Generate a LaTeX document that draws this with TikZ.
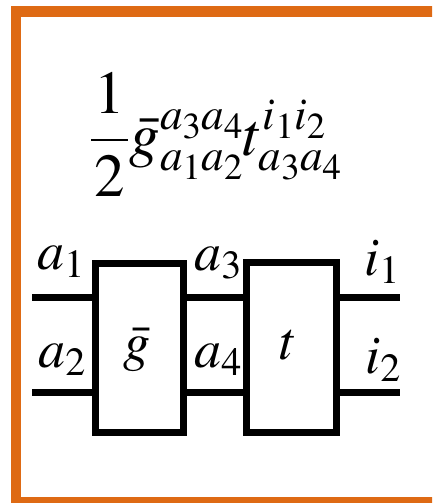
\documentclass[tikz,border=0pt]{standalone}
\usepackage{mathptmx}
\definecolor{frameorange}{RGB}{222,106,20}
\begin{document}
\begin{tikzpicture}[x=1pt,y=-1pt,
  wire/.style={line width=7pt},
  tensorbox/.style={draw,line width=7pt},
  lbl/.style={inner sep=0pt,font=\fontsize{54}{58}\selectfont}]
\useasboundingbox (0,0) rectangle (432,503);
\clip (0,0) rectangle (432,503);
\draw[frameorange,line width=10.5pt] (16,11.5) rectangle (440,502.5);
% formula
\node[lbl,font=\fontsize{61}{66}\selectfont] (formula) at (216,135)
  {$\displaystyle\frac{\mkern1mu 1\mkern1mu}{\mkern1mu 2\mkern1mu}\bar{g}^{a_3a_4}_{a_1a_2}t^{i_1i_2}_{a_3a_4}$};
% boxes
\draw[tensorbox] (95,263) rectangle (183,432);
\draw[tensorbox] (246.5,262) rectangle (336.5,432);
\coordinate (gL1) at (91.5,297); \coordinate (gL2) at (91.5,392);
\coordinate (gR1) at (186.5,297); \coordinate (gR2) at (186.5,392);
\coordinate (tL1) at (243,297); \coordinate (tL2) at (243,392);
\coordinate (tR1) at (340,297); \coordinate (tR2) at (340,392);
\coordinate (inA1) at (32,297); \coordinate (inA2) at (32,392);
\coordinate (outI1) at (400,297); \coordinate (outI2) at (400,392);
\draw[wire] (inA1) -- (gL1);
\draw[wire] (inA2) -- (gL2);
\draw[wire] (gR1) -- (tL1);
\draw[wire] (gR2) -- (tL2);
\draw[wire] (tR1) -- (outI1);
\draw[wire] (tR2) -- (outI2);
% labels
\node[lbl] (gl) at (137,350) {$\bar{g}$};
\node[lbl] (tl) at (289,345) {$t$};
\node[lbl] (la1) at (61,262) {$a_1$};
\node[lbl] (la2) at (62,360) {$a_2$};
\node[lbl] (la3) at (218,263) {$a_3$};
\node[lbl] (la4) at (218,360) {$a_4$};
\node[lbl] (li1) at (382,262) {$i_1$};
\node[lbl] (li2) at (383,360) {$i_2$};
\end{tikzpicture}
\end{document}
